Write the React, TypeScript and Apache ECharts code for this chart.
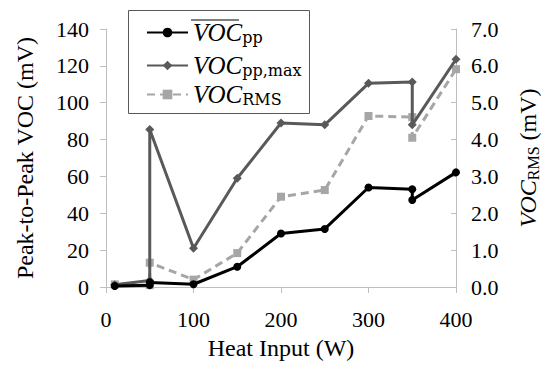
import React, { useEffect, useRef } from "react";
import * as echarts from "echarts";

const heatInput = [10, 50, 50, 100, 150, 200, 250, 300, 350, 350, 400];
const vocPpAvg = [0.5, 1.0, 2.5, 1.5, 11, 29, 31.5, 54, 53, 47.2, 62.2];
const vocPpMax = [1.2, 3.5, 85.5, 21, 59, 89, 88, 110.5, 111.2, 88, 123.6];
const vocRms = [0.07, 0.05, 0.66, 0.2, 0.92, 2.45, 2.63, 4.64, 4.61, 4.05, 5.91];
const xTicks = [0, 100, 200, 300, 400];

const SERIF = "'Liberation Serif', 'Times New Roman', serif";
const AXIS_GRAY = "#bfbfbf";

const legendLabels: Record<string, string> = {
  avg: "{v|VOC}{s|pp}",
  max: "{v|VOC}{s|pp,max}",
  rms: "{v|VOC}{s|RMS}",
};

const legendRich = {
  v: { fontFamily: SERIF, fontStyle: "italic", fontSize: 25, color: "#000", lineHeight: 26 },
  s: { fontFamily: "'DejaVu Serif', serif", fontSize: 16, color: "#000", lineHeight: 16, verticalAlign: "bottom" },
};

function makeLegend(name: string, top: number) {
  return {
    orient: "horizontal",
    left: 146,
    top,
    itemWidth: 41,
    itemHeight: 12,
    padding: 0,
    data: [name],
    formatter: (n: string) => legendLabels[n],
    textStyle: { color: "#000", rich: legendRich },
  };
}

export default function App() {
  const ref = useRef<HTMLDivElement>(null);
  useEffect(() => {
    if (!ref.current) return;
    const chart = echarts.init(ref.current, undefined, { renderer: "svg" });
    const pairs = (ys: number[]) => heatInput.map((x, i) => [x, ys[i]]);
    chart.setOption({
      animation: false,
      backgroundColor: "#ffffff",
      grid: { left: 106, right: 88, top: 29, bottom: 69 },
      legend: [makeLegend("avg", 20), makeLegend("max", 53), makeLegend("rms", 82)],
      graphic: [
        { type: "rect", shape: { x: 128.5, y: 10.5, width: 181, height: 103 }, style: { fill: "none", stroke: "#595959", lineWidth: 1 }, z: 0 },
        { type: "line", shape: { x1: 191, y1: 20, x2: 239, y2: 20 }, style: { stroke: "#000", lineWidth: 1.2 }, z: 10 },
      ],
      xAxis: {
        type: "value",
        min: 0,
        max: 400,
        interval: 100,
        splitLine: { show: false },
        axisLine: { show: true, lineStyle: { color: AXIS_GRAY, width: 1 } },
        axisTick: { show: true, length: 6, lineStyle: { color: AXIS_GRAY } },
        axisLabel: {
          fontFamily: SERIF, fontSize: 22, color: "#000", margin: 21,
          formatter: (v: number) => (xTicks.includes(v) ? String(v) : ""),
        },
        name: "Heat Input (W)",
        nameLocation: "middle",
        nameGap: 49,
        nameTextStyle: { fontFamily: SERIF, fontSize: 24, color: "#000" },
      },
      yAxis: [
        {
          type: "value",
          min: 0,
          max: 140,
          interval: 20,
          position: "left",
          splitLine: { show: false },
          axisLine: { show: true, lineStyle: { color: AXIS_GRAY, width: 1 } },
          axisTick: { show: true, length: 6, lineStyle: { color: AXIS_GRAY } },
          axisLabel: { fontFamily: SERIF, fontSize: 22, color: "#000", margin: 17 },
          name: "Peak-to-Peak VOC (mV)",
          nameLocation: "middle",
          nameRotate: 90,
          nameGap: 69,
          nameTextStyle: { fontFamily: SERIF, fontSize: 24, color: "#000" },
        },
        {
          type: "value",
          min: 0,
          max: 7,
          interval: 1,
          position: "right",
          splitLine: { show: false },
          axisLine: { show: true, lineStyle: { color: AXIS_GRAY, width: 1 } },
          axisTick: { show: true, inside: true, length: 5, lineStyle: { color: AXIS_GRAY } },
          axisLabel: { fontFamily: SERIF, fontSize: 22, color: "#000", margin: 15, formatter: (v: number) => v.toFixed(1) },
          name: "{i|VOC}{s|RMS}{n| (mV)}",
          nameLocation: "middle",
          nameRotate: 90,
          nameGap: 59,
          nameTextStyle: {
            color: "#000",
            rich: {
              i: { fontFamily: SERIF, fontStyle: "italic", fontSize: 24, color: "#000", lineHeight: 26 },
              s: { fontFamily: SERIF, fontSize: 16, color: "#000", lineHeight: 16, verticalAlign: "bottom" },
              n: { fontFamily: SERIF, fontSize: 24, color: "#000", lineHeight: 26 },
            },
          },
        },
      ],
      series: [
        {
          name: "rms",
          type: "line",
          yAxisIndex: 1,
          data: pairs(vocRms),
          symbol: "rect",
          symbolSize: 8,
          color: "#a6a6a6",
          lineStyle: { color: "#a6a6a6", width: 3, type: [8, 5] },
          itemStyle: { color: "#a6a6a6" },
          z: 2,
        },
        {
          name: "max",
          type: "line",
          yAxisIndex: 0,
          data: pairs(vocPpMax),
          symbol: "diamond",
          symbolSize: 9,
          color: "#595959",
          lineStyle: { color: "#595959", width: 3 },
          itemStyle: { color: "#595959" },
          z: 3,
        },
        {
          name: "avg",
          type: "line",
          yAxisIndex: 0,
          data: pairs(vocPpAvg),
          symbol: "circle",
          symbolSize: 8,
          color: "#000",
          lineStyle: { color: "#000", width: 3 },
          itemStyle: { color: "#000" },
          z: 4,
        },
      ],
    });
    return () => chart.dispose();
  }, []);
  return <div ref={ref} style={{ width: 549, height: 365, position: "absolute", left: 0, top: 0 }} />;
}
